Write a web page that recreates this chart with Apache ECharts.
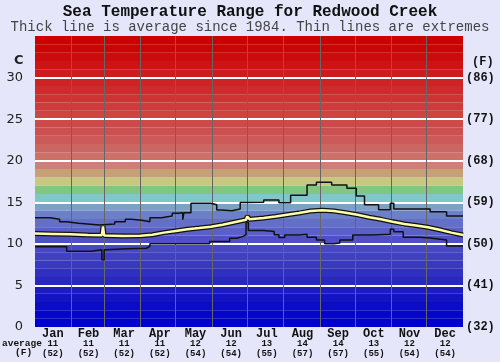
<!DOCTYPE html>
<html><head><meta charset="utf-8">
<script src="https://cdn.jsdelivr.net/npm/echarts@6/dist/echarts.min.js"></script>
<style>html,body{margin:0;padding:0;background:#e6e6fa}#c{width:500px;height:362px}</style>
</head><body><div id="c"></div>
<script>
// ---- data ----
const months = ['Jan','Feb','Mar','Apr','May','Jun','Jul','Aug','Sep','Oct','Nov','Dec'];
const monthAvgC = [11,11,11,11,12,12,13,14,14,13,12,12];
const monthAvgF = [52,52,52,52,54,54,55,57,57,55,54,54];
const monthBoundaryDays = [31,59,90,120,151,181,212,243,273,304,334];
const gridTempsC = [5,10,15,20,25,30];
// extremes as [dayOfYear, value held from that day] (step lines)
const maxTemps = [[0,13.15],[13,12.96],[21,12.67],[27,12.47],[37,12.27],[55,12.4],[68,12.67],[77,12.96],[82,12.85],[91,12.67],[98,13.15],[108,13.36],[117,13.68],[122,13.75],[126,12.9],[127,13.75],[133,14.88],[150,14.7],[155,14.08],[159,13.98],[168,14.2],[175,14.96],[181,15.0],[195,15.28],[208,14.95],[218,15.85],[232,17.09],[240,17.4],[253,17.09],[266,16.7],[274,15.75],[281,14.7],[293,14.1],[303,14.88],[306,14.2],[337,13.85],[351,13.36],[365,13.36]];
const minTemps = [[0,9.66],[27,9.12],[48,9.3],[57,8.1],[59,9.3],[61,9.4],[78,9.47],[95,9.7],[98,10.0],[149,10.27],[166,10.67],[172,10.87],[177,11.1],[180,12.6],[182,11.6],[195,11.5],[204,11.1],[208,10.75],[213,11.07],[225,11.15],[232,10.79],[240,10.47],[247,10.0],[255,10.1],[260,10.47],[271,11.07],[288,11.15],[303,11.75],[306,11.47],[314,10.79],[328,10.7],[337,10.47],[351,9.75],[365,9.75]];
const avgTemps = [[0,11.25],[15,11.2],[30,11.15],[45,11.07],[57,11.05],[58,12.1],[59,11.0],[75,10.95],[90,10.97],[100,11.1],[110,11.35],[120,11.55],[130,11.75],[140,11.9],[150,12.07],[160,12.3],[170,12.6],[180,12.9],[181,13.3],[183,12.95],[195,13.1],[205,13.28],[215,13.5],[225,13.7],[235,13.95],[245,14.05],[255,13.95],[265,13.75],[275,13.5],[285,13.2],[295,12.95],[305,12.65],[315,12.4],[325,12.2],[335,12.0],[345,11.7],[355,11.35],[365,11.07]];

// ---- styling ----
const bandColors = ['#0000cc','#0606c6','#0c0cc4','#1414c2','#1c1cc0','#2828bf','#3030c0','#3838c0','#4040c2','#4848c4',
  '#5050c6','#5a60c8','#6470c8','#6c80c8','#7ca0c8','#80c8c8','#80c880','#c8c880','#c8a078','#cc8078',
  '#cc7068','#cc6660','#cc5a58','#cc5050','#cc4a4a','#cc4444','#cc3c3c','#cc3434','#cc2c2c','#cc2424',
  '#cc1c1c','#cc1414','#cc0c0c','#cc0404','#cc0000'];
const mono = '"Liberation Mono","DejaVu Sans Mono",monospace';

const bands = bandColors.map((c,k)=>[{yAxis:k,itemStyle:{color:c}},{yAxis:k+1}]);
const lines = gridTempsC.map(v=>({yAxis:v,lineStyle:{color:'#ffffff',width:2,type:'solid'}}))
  .concat(monthBoundaryDays.map(d=>({xAxis:d,lineStyle:{color:'#666666',width:1,type:'solid'}})));

const chart = echarts.init(document.getElementById('c'), null, {renderer:'canvas'});
chart.setOption({
  animation:false,
  backgroundColor:'#e6e6fa',
  title:[
    {text:'Sea Temperature Range for Redwood Creek',left:'center',top:4,padding:0,
     textStyle:{fontFamily:mono,fontWeight:'bold',fontSize:16,color:'#111'}},
    {text:'Thick line is average since 1984. Thin lines are extremes',left:'center',top:20,padding:0,
     textStyle:{fontFamily:mono,fontWeight:'normal',fontSize:14,color:'#444'}}
  ],
  grid:{left:35,right:37,top:36,bottom:35},
  xAxis:[
    {type:'value',min:0,max:365,show:false},
    {type:'category',data:months,position:'bottom',boundaryGap:true,
     axisLine:{show:false},axisTick:{show:false},splitLine:{show:false},
     axisLabel:{interval:0,margin:1,
       formatter:(v,i)=>'{m|'+v+'}\n{a|'+monthAvgC[i]+'}\n{f|('+monthAvgF[i]+')}',
       rich:{m:{fontFamily:mono,fontWeight:'bold',fontSize:12,lineHeight:11,color:'#111'},
             a:{fontFamily:mono,fontWeight:'bold',fontSize:9,lineHeight:9.5,color:'#111'},
             f:{fontFamily:mono,fontWeight:'bold',fontSize:9,lineHeight:9.5,color:'#111'}}}}
  ],
  yAxis:[
    {type:'value',min:0,max:35,interval:5,position:'left',
     axisLine:{show:false},axisTick:{show:false},splitLine:{show:false},
     axisLabel:{margin:12,fontFamily:'"DejaVu Sans",sans-serif',fontSize:13,color:'#222',
       formatter:v=>v===35?'':String(v)}},
    {type:'value',min:0,max:35,interval:5,position:'right',
     axisLine:{show:false},axisTick:{show:false},splitLine:{show:false},
     axisLabel:{margin:3,fontFamily:mono,fontWeight:'bold',fontSize:12,color:'#111',
       formatter:v=>v===35?'':'('+Math.round(v*9/5+32)+')'}}
  ],
  graphic:[
    {type:'text',left:14,top:54,style:{text:'C',font:'bold 13px "DejaVu Sans",sans-serif',fill:'#222'}},
    {type:'text',left:472,top:56,style:{text:'(F)',font:'bold 12px '+mono,fill:'#111'}},
    {type:'text',left:2,top:339,style:{text:'average',font:'bold 9.5px '+mono,fill:'#111'}},
    {type:'text',left:15,top:348,style:{text:'(F)',font:'bold 9.5px '+mono,fill:'#111'}}
  ],
  series:[
    {name:'max',type:'line',xAxisIndex:0,yAxisIndex:0,z:10,step:'end',data:maxTemps,
     symbol:'none',lineStyle:{color:'#111',width:1.5},silent:true,
     markArea:{silent:true,data:bands},
     markLine:{silent:true,symbol:'none',label:{show:false},data:lines}},
    {name:'min',type:'line',xAxisIndex:0,yAxisIndex:0,z:10,step:'end',data:minTemps,
     symbol:'none',lineStyle:{color:'#111',width:1.5},silent:true},
    {name:'avgOutline',type:'line',xAxisIndex:0,yAxisIndex:0,z:11,data:avgTemps,
     symbol:'none',lineStyle:{color:'#111',width:5},silent:true},
    {name:'avg',type:'line',xAxisIndex:0,yAxisIndex:0,z:12,data:avgTemps,
     symbol:'none',lineStyle:{color:'#ffffa8',width:2.5},silent:true}
  ]
});
</script></body></html>
